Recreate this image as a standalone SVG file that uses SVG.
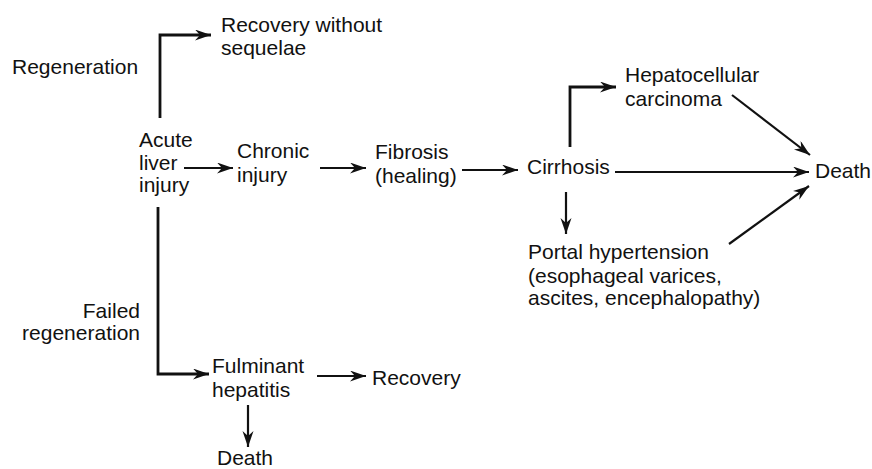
<svg xmlns="http://www.w3.org/2000/svg" width="872" height="469" viewBox="0 0 872 469">
<defs>
<style>
.t{font-family:"Liberation Sans",Arial,sans-serif;font-size:21px;fill:#111111}
.c{fill:none;stroke:#111111;stroke-width:2.2}
.v{fill:none;stroke:#111111;stroke-width:2.8}
</style>
<marker id="ah" markerUnits="userSpaceOnUse" markerWidth="18" markerHeight="12" refX="16" refY="5.5" orient="auto">
<path d="M0,0 L16,5.5 L0,11 L5,5.5 z" fill="#111111"/>
</marker>
</defs>
<rect width="872" height="469" fill="#ffffff"/>
<g id="connectors">
<path class="v" d="M160,118 V35 H211" marker-end="url(#ah)"/>
<path class="c" d="M184,168 H233" marker-end="url(#ah)"/>
<path class="c" d="M320,168 H366" marker-end="url(#ah)"/>
<path class="c" d="M462,170 H518" marker-end="url(#ah)"/>
<path class="c" d="M615,172 H809" marker-end="url(#ah)"/>
<path class="v" d="M570,147 V87 H616" marker-end="url(#ah)"/>
<path class="c" d="M732,95 L810,155" marker-end="url(#ah)"/>
<path class="c" d="M729,244 L809,186" marker-end="url(#ah)"/>
<path class="c" d="M566,192 V234" marker-end="url(#ah)"/>
<path class="v" d="M158,207 V374 H209" marker-end="url(#ah)"/>
<path class="c" d="M317,376 H366" marker-end="url(#ah)"/>
<path class="c" d="M248,405 V447" marker-end="url(#ah)"/>
</g>
<g id="recovery-without-sequelae"><text class="t" x="221" y="32">Recovery without</text><text class="t" x="221" y="55">sequelae</text></g>
<g id="regeneration-label"><text class="t" x="12" y="74">Regeneration</text></g>
<g id="acute-liver-injury"><text class="t" x="139" y="147">Acute</text><text class="t" x="139" y="170">liver</text><text class="t" x="139" y="192">injury</text></g>
<g id="chronic-injury"><text class="t" x="237" y="158">Chronic</text><text class="t" x="237" y="182">injury</text></g>
<g id="fibrosis"><text class="t" x="375" y="159">Fibrosis</text><text class="t" x="375" y="183">(healing)</text></g>
<g id="cirrhosis"><text class="t" x="527" y="174">Cirrhosis</text></g>
<g id="hcc"><text class="t" x="625" y="82">Hepatocellular</text><text class="t" x="625" y="106">carcinoma</text></g>
<g id="death-right"><text class="t" x="815" y="178">Death</text></g>
<g id="portal-hypertension"><text class="t" x="528" y="259">Portal hypertension</text><text class="t" x="528" y="283">(esophageal varices,</text><text class="t" x="528" y="305">ascites, encephalopathy)</text></g>
<g id="failed-regeneration-label"><text class="t" x="140" y="318" text-anchor="end">Failed</text><text class="t" x="140" y="340" text-anchor="end">regeneration</text></g>
<g id="fulminant-hepatitis"><text class="t" x="212" y="373">Fulminant</text><text class="t" x="212" y="397">hepatitis</text></g>
<g id="recovery"><text class="t" x="372" y="385">Recovery</text></g>
<g id="death-bottom"><text class="t" x="217" y="465">Death</text></g>
</svg>
